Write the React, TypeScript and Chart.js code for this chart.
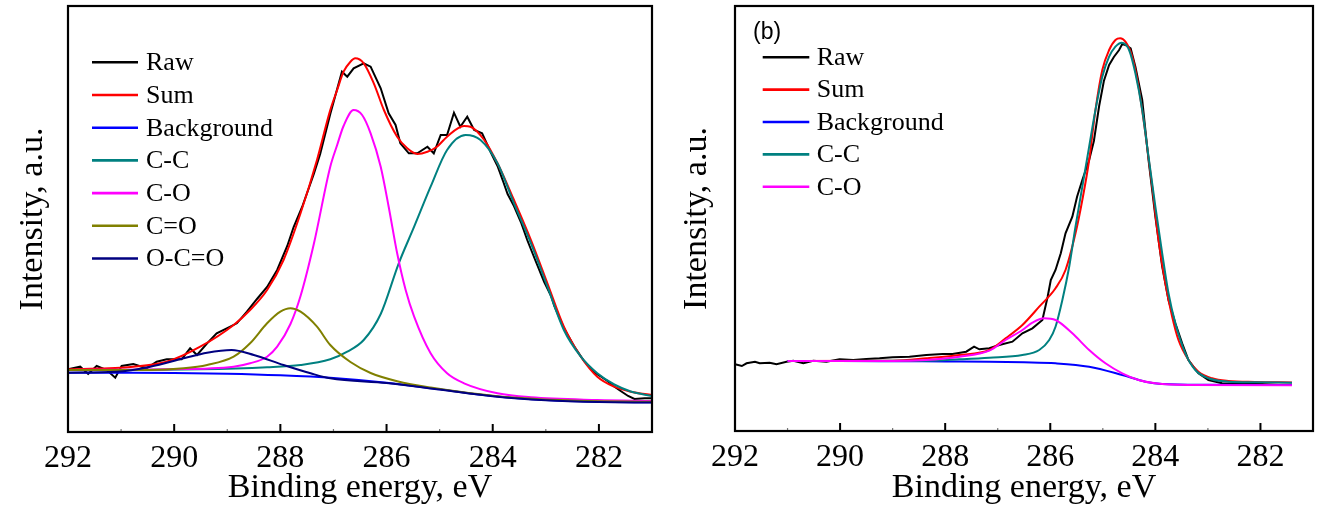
import React, { useEffect, useRef } from "react";
import { Chart, registerables } from "chart.js";

Chart.register(...registerables);

// ---------- shared axis ticks ----------
const majorTicks = [292, 290, 288, 286, 284, 282];
const minorTicks = [291, 289, 287, 285, 283];

// ---------- panel (a) ----------
const aLabels = ["Raw", "Sum", "Background", "C-C", "C-O", "C=O", "O-C=O"];

const aRaw: [number, number][] = [
  [292.0, 62.7], [291.77, 65.3], [291.62, 58], [291.46, 66], [291.27, 62], [291.11, 54.3],
  [290.99, 66], [290.77, 68], [290.52, 63.7], [290.33, 70.3], [290.14, 72.7], [289.86, 72.7],
  [289.7, 83.7], [289.57, 77], [289.38, 88.7], [289.2, 98.7], [289.01, 103.7], [288.82, 108.7],
  [288.63, 120.3], [288.44, 133], [288.25, 145], [288.06, 162], [287.87, 186], [287.75, 205],
  [287.59, 225], [287.37, 258], [287.25, 278], [287.06, 318], [286.84, 360.3], [286.74, 355.3],
  [286.62, 363.7], [286.43, 368.7], [286.3, 365.3], [286.11, 343.7], [285.96, 318.7], [285.83, 307],
  [285.74, 288.7], [285.58, 278.7], [285.42, 278.7], [285.23, 285.3], [285.11, 278.7], [284.98, 297],
  [284.86, 297], [284.73, 319.3], [284.61, 305.3], [284.48, 315.3], [284.35, 302], [284.2, 298.7],
  [284.04, 280], [283.91, 266], [283.8, 250], [283.72, 238], [283.66, 232], [283.6, 226],
  [283.47, 210], [283.35, 192], [283.2, 172], [283.03, 150], [282.9, 136], [282.84, 126],
  [282.66, 104], [282.47, 86], [282.28, 71], [282.1, 60], [281.95, 55], [281.84, 51],
  [281.7, 45], [281.59, 41], [281.45, 36], [281.33, 33], [281.14, 33.7], [281.0, 33.7],
];

const aSum: [number, number][] = [
  [292.0, 62.7], [290.77, 65.3], [290.14, 70.3], [289.51, 85.3], [288.88, 107], [288.57, 122],
  [288.25, 142], [287.94, 172], [287.62, 218.7], [287.31, 272], [287.06, 322], [286.93, 342],
  [286.81, 360.3], [286.68, 370.3], [286.59, 373.7], [286.43, 368.7], [286.24, 348.7], [286.05, 322],
  [285.8, 295.3], [285.61, 283.7], [285.42, 278], [285.23, 280.3], [285.05, 285.3], [284.86, 295.3],
  [284.54, 306], [284.42, 305.3], [284.16, 292], [283.91, 268.7], [283.6, 232], [283.28, 192],
  [282.97, 148.7], [282.66, 105.3], [282.34, 75.3], [282.03, 55.3], [281.71, 45.3], [281.4, 40.3],
  [281.0, 37],
];

const aBackground: [number, number][] = [
  [292, 59.3], [291, 59.2], [290, 59], [289, 58.3], [288, 56.7], [287, 54], [286, 49.3],
  [285, 42.7], [284, 36], [283, 32], [282, 30.3], [281, 29.7],
];

const aCC: [number, number][] = [
  [292, 62], [289.51, 62.7], [288.25, 64.7], [287.62, 67], [287.06, 72.7], [286.74, 80.3],
  [286.43, 92], [286.11, 118], [285.77, 168.7], [285.48, 205.3], [285.17, 245.3], [284.86, 282],
  [284.51, 297], [284.23, 292], [283.91, 268.7], [283.6, 228.7], [283.28, 188.7], [282.97, 145.3],
  [282.66, 102], [282.34, 75.3], [282.03, 58.7], [281.71, 47.5], [281.4, 40.5], [281, 36],
];

const aCO: [number, number][] = [
  [292, 62], [290.14, 62.7], [288.88, 65.3], [288.57, 68.7], [288.25, 75.3], [288.06, 85.3],
  [287.81, 108], [287.62, 136], [287.37, 188], [287.06, 265.3], [286.93, 287], [286.81, 306],
  [286.62, 322], [286.46, 317], [286.3, 298.7], [286.11, 265.3], [285.96, 225.3], [285.8, 178.7],
  [285.64, 142], [285.48, 115.3], [285.17, 78.7], [284.86, 58.7], [284.54, 48.7], [283.91, 38.7],
  [283.28, 34.7], [282.03, 32], [281, 31],
];

const aCdO: [number, number][] = [
  [292, 62], [290.45, 62], [289.82, 63.7], [289.38, 67], [288.88, 75.3], [288.57, 88.7],
  [288.25, 108.7], [288.0, 120.3], [287.81, 123.7], [287.62, 120.3], [287.31, 105.3], [287.06, 87],
  [286.68, 70], [286.3, 59], [285.8, 50.8], [285.17, 44.5], [283.91, 35.8], [282.5, 31.5], [281, 30.3],
];

const aOCO: [number, number][] = [
  [292, 59.3], [291.08, 60.3], [290.45, 65.3], [289.82, 73.7], [289.38, 79.3], [288.92, 82],
  [288.5, 77], [287.94, 67], [287.43, 58.7], [287.06, 53.7], [286, 49], [285, 42.5],
  [284, 35.8], [283, 31.8], [282, 30], [281, 29.5],
];

// ---------- panel (b) ----------
const bLabels = ["Raw", "Sum", "Background", "C-C", "C-O"];

const bRaw: [number, number][] = [
  [292.0, 66.7], [291.87, 65], [291.78, 67.7], [291.62, 69.3], [291.53, 67.7], [291.34, 68.3],
  [291.21, 66.7], [291.02, 69.3], [290.89, 70.3], [290.7, 67.7], [290.51, 70.3], [290.26, 69.3],
  [290.01, 71.7], [289.75, 71], [289.5, 72], [289.25, 72.7], [289.0, 73.7], [288.68, 74.3],
  [288.36, 76], [288.05, 77], [287.86, 77], [287.6, 79.3], [287.45, 84.3], [287.35, 81.7],
  [287.16, 82.7], [286.97, 86], [286.72, 89.3], [286.53, 97.7], [286.34, 102.7], [286.15, 111],
  [286.05, 134.3], [285.99, 151], [285.9, 161], [285.8, 177.7], [285.71, 197.7], [285.58, 214.3],
  [285.49, 234.3], [285.39, 251], [285.26, 271], [285.17, 290], [285.07, 325], [284.98, 350],
  [284.88, 366], [284.79, 374], [284.69, 381], [284.63, 387], [284.57, 386], [284.47, 382.7],
  [284.38, 364.3], [284.25, 331], [284.13, 271], [284.0, 214.3], [283.87, 164.3], [283.75, 131],
  [283.62, 107.7], [283.49, 87.7], [283.37, 71], [283.18, 57.7], [282.99, 51], [282.73, 47.7],
  [282.35, 47], [281.97, 47], [281.66, 46], [281.4, 46],
];

const bSum: [number, number][] = [
  [291, 70], [289, 70.3], [288.36, 72.7], [287.73, 76], [287.16, 81], [286.85, 92.7],
  [286.53, 106], [286.21, 124.3], [285.9, 142.7], [285.71, 161], [285.52, 197.7], [285.39, 231],
  [285.26, 271], [285.14, 321], [285.01, 361], [284.88, 381], [284.76, 391], [284.67, 392.7],
  [284.57, 389.3], [284.44, 374.3], [284.32, 344.3], [284.19, 297.7], [284.06, 244.3], [283.94, 191],
  [283.81, 147.7], [283.68, 114.3], [283.56, 91], [283.37, 71], [283.18, 59.3], [282.92, 52.7],
  [282.61, 50], [282.1, 49], [281.4, 48.5],
];

const bBackground: [number, number][] = [
  [291, 70], [290, 70], [289, 69.8], [288, 69.5], [287.16, 69.3], [286.5, 68.7], [285.9, 67.7],
  [285.26, 64.3], [284.63, 56], [284.19, 49.3], [283.87, 47], [283, 46.2], [281.4, 46],
];

const bCC: [number, number][] = [
  [291, 70], [289, 70.2], [288.36, 70.3], [287.73, 71.7], [287.16, 73.3], [286.53, 76],
  [286.21, 81], [286.02, 91], [285.9, 104.3], [285.77, 131], [285.64, 164.3], [285.52, 204.3],
  [285.39, 244.3], [285.26, 284.3], [285.14, 321], [285.01, 354.3], [284.88, 374.3], [284.76, 384.3],
  [284.64, 388.3], [284.5, 381], [284.38, 357.7], [284.25, 321], [284.13, 274.3], [284.0, 224.3],
  [283.87, 177.7], [283.75, 137.7], [283.62, 107.7], [283.43, 77.7], [283.24, 61], [282.99, 52.7],
  [282.61, 49.3], [282.1, 48.7], [281.4, 48.3],
];

const bCO: [number, number][] = [
  [291, 70], [290, 70], [289, 70], [288.36, 71], [287.73, 74.3], [287.16, 80.3], [286.85, 91],
  [286.53, 101], [286.34, 108.3], [286.12, 112.7], [285.9, 111], [285.58, 97.7], [285.26, 81],
  [284.95, 67.7], [284.63, 57.7], [284.32, 51], [284.0, 47.7], [283.37, 46], [281.4, 45.7],
];

const colors = {
  raw: "#000000",
  sum: "#ff0000",
  background: "#0000ff",
  cc: "#008080",
  co: "#ff00ff",
  cdo: "#808000",
  oco: "#000080",
};

const SERIF = '"Liberation Serif", "Times New Roman", serif';

const framePlugin = {
  id: "frameTicks",
  afterDraw(chart: any, _args: any, opts: any) {
    const { ctx, chartArea: a } = chart;
    const x = chart.scales.x;
    ctx.save();
    ctx.lineWidth = 1.2;
    ctx.strokeStyle = "#777";
    minorTicks.forEach((v) => {
      const px = x.getPixelForValue(v);
      ctx.beginPath();
      ctx.moveTo(px, a.bottom);
      ctx.lineTo(px, a.bottom - 3);
      ctx.stroke();
    });
    ctx.strokeStyle = "#000";
    ctx.lineWidth = 2;
    majorTicks.forEach((v) => {
      const px = x.getPixelForValue(v);
      ctx.beginPath();
      ctx.moveTo(px, a.bottom);
      ctx.lineTo(px, a.bottom - 8);
      ctx.stroke();
    });
    ctx.lineWidth = 2.2;
    ctx.strokeRect(a.left, a.top, a.right - a.left, a.bottom - a.top);
    if (opts && opts.panelLabel) {
      ctx.fillStyle = "#000";
      ctx.font = '23px "Liberation Sans", Arial, sans-serif';
      ctx.textBaseline = "middle";
      ctx.textAlign = "left";
      ctx.fillText(opts.panelLabel, a.left + opts.panelX, opts.panelY);
    }
    ctx.restore();
  },
};

const legendPlugin = {
  id: "customLegend",
  afterDatasetsDraw(chart: any, _args: any, opts: any) {
    const { ctx, chartArea: a } = chart;
    ctx.save();
    ctx.font = `26px ${SERIF}`;
    ctx.textBaseline = "middle";
    ctx.textAlign = "left";
    chart.data.datasets.forEach((ds: any, i: number) => {
      const y = opts.y0 + i * opts.dy;
      ctx.strokeStyle = ds.borderColor;
      ctx.lineWidth = 2.6;
      ctx.beginPath();
      ctx.moveTo(a.left + opts.x0, y);
      ctx.lineTo(a.left + opts.x1, y);
      ctx.stroke();
      ctx.fillStyle = "#000";
      ctx.fillText(ds.label, a.left + opts.tx, y + 1);
    });
    ctx.restore();
  },
};

type Series = { label: string; pts: [number, number][]; color: string; raw?: boolean };

function makeDatasets(series: Series[]) {
  const n = series.length;
  return series.map((s, i) => ({
    label: s.label,
    data: s.pts.map(([x, y]) => ({ x, y })),
    borderColor: s.color,
    backgroundColor: s.color,
    borderWidth: 2,
    pointRadius: 0,
    fill: false,
    tension: 0,
    cubicInterpolationMode: s.raw ? "default" : "monotone",
    order: n - i,
  }));
}

function makeOptions(cfg: {
  yMax: number;
  yWidth: number;
  xHeight: number;
  padRight: number;
  yTitlePad: number;
  legend: any;
  frame: any;
}) {
  return {
    responsive: false,
    animation: false as const,
    devicePixelRatio: 1,
    layout: { padding: { top: 6, right: cfg.padRight, left: 0, bottom: 0 } },
    plugins: {
      legend: { display: false },
      tooltip: { enabled: false },
      customLegend: cfg.legend,
      frameTicks: cfg.frame,
    },
    scales: {
      x: {
        type: "linear" as const,
        reverse: true,
        min: 281,
        max: 292,
        grid: { display: false, drawTicks: false },
        border: { display: false },
        afterBuildTicks: (axis: any) => {
          axis.ticks = majorTicks.map((v) => ({ value: v }));
        },
        afterFit: (scale: any) => {
          scale.height = cfg.xHeight;
        },
        ticks: {
          color: "#000",
          padding: 7,
          font: { family: SERIF, size: 32 },
          maxRotation: 0,
          autoSkip: false,
        },
        title: {
          display: true,
          text: "Binding energy, eV",
          color: "#000",
          font: { family: SERIF, size: 34 },
          padding: { top: 0, bottom: 0 },
        },
      },
      y: {
        type: "linear" as const,
        min: 0,
        max: cfg.yMax,
        grid: { display: false, drawTicks: false },
        border: { display: false },
        ticks: { display: false },
        afterFit: (scale: any) => {
          scale.width = cfg.yWidth;
        },
        title: {
          display: true,
          text: "Intensity, a.u.",
          color: "#000",
          font: { family: SERIF, size: 34 },
          padding: { top: cfg.yTitlePad, bottom: 0 },
        },
      },
    },
  };
}

function Panel(props: { width: number; left: number; series: Series[]; options: any }) {
  const ref = useRef<HTMLCanvasElement | null>(null);
  useEffect(() => {
    if (!ref.current) return;
    const chart = new Chart(ref.current, {
      type: "line",
      data: { datasets: makeDatasets(props.series) as any },
      options: props.options,
      plugins: [framePlugin, legendPlugin],
    });
    return () => chart.destroy();
  }, []);
  return (
    <canvas
      ref={ref}
      width={props.width}
      height={508}
      style={{ position: "absolute", left: props.left, top: 0, width: props.width, height: 508, display: "block" }}
    />
  );
}

export default function App() {
  const aSeries: Series[] = [
    { label: aLabels[0], pts: aRaw, color: colors.raw, raw: true },
    { label: aLabels[1], pts: aSum, color: colors.sum },
    { label: aLabels[2], pts: aBackground, color: colors.background },
    { label: aLabels[3], pts: aCC, color: colors.cc },
    { label: aLabels[4], pts: aCO, color: colors.co },
    { label: aLabels[5], pts: aCdO, color: colors.cdo },
    { label: aLabels[6], pts: aOCO, color: colors.oco },
  ];
  const bSeries: Series[] = [
    { label: bLabels[0], pts: bRaw, color: colors.raw, raw: true },
    { label: bLabels[1], pts: bSum, color: colors.sum },
    { label: bLabels[2], pts: bBackground, color: colors.background },
    { label: bLabels[3], pts: bCC, color: colors.cc },
    { label: bLabels[4], pts: bCO, color: colors.co },
  ];
  const aOptions = makeOptions({
    yMax: 426,
    yWidth: 68,
    xHeight: 76,
    padRight: 8,
    yTitlePad: 13,
    legend: { x0: 24, x1: 70, tx: 78, y0: 62.3, dy: 32.7 },
    frame: {},
  });
  const bOptions = makeOptions({
    yMax: 425,
    yWidth: 75,
    xHeight: 77,
    padRight: 6,
    yTitlePad: 17,
    legend: { x0: 27.7, x1: 74.3, tx: 81.7, y0: 57.3, dy: 32.35 },
    frame: { panelLabel: "(b)", panelX: 18, panelY: 33 },
  });
  return (
    <div style={{ position: "absolute", left: 0, top: 0, width: 1319, height: 508, background: "#fff" }}>
      <Panel width={660} left={0} series={aSeries} options={aOptions} />
      <Panel width={659} left={660} series={bSeries} options={bOptions} />
    </div>
  );
}
